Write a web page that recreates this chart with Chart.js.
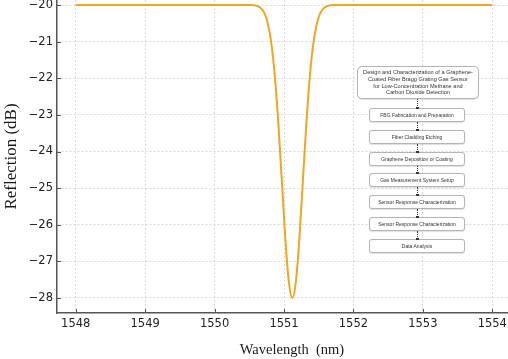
<!DOCTYPE html>
<html>
<head>
<meta charset="utf-8">
<script src="https://cdn.jsdelivr.net/npm/chart.js@4.4.0/dist/chart.umd.min.js"></script>
<style>
  html, body { margin: 0; padding: 0; background: #fff; overflow: hidden; }
  #wrap { position: relative; width: 508px; height: 359px; overflow: hidden; }
  #chart { position: absolute; left: 0; top: 0; }
  .box {
    position: absolute; background: #fff; border: 1px solid #b5b5b5; border-radius: 3px;
    box-sizing: border-box; display: flex; align-items: center; justify-content: center;
    font-family: "Liberation Sans", Arial, sans-serif; color: #333; text-align: center;
    box-shadow: 0 0.5px 1px rgba(0,0,0,0.12);
  }
  .title { font-size: 5.6px; line-height: 6.8px; border-radius: 5px; }
  .step { font-size: 5px; }
  .arrow { position: absolute; width: 0; border-left: 1px dotted #333; }
  .arrow::after {
    content: ""; position: absolute; left: -2px; bottom: -1px;
    width: 3px; height: 2px; background: #333;
  }
</style>
</head>
<body>
<div id="wrap">
  <canvas id="chart" width="527" height="359"></canvas>
</div>
<script>
const wavelength = [1548, 1549, 1550, 1550.52, 1550.62, 1550.67, 1550.72, 1550.77, 1550.82, 1550.87,
  1550.92, 1550.97, 1551.02, 1551.07, 1551.12, 1551.17, 1551.22, 1551.27, 1551.32, 1551.37,
  1551.42, 1551.47, 1551.52, 1551.57, 1551.62, 1551.72, 1552, 1553, 1554];
const reflection = [-20, -20, -20, -20.0, -20.03, -20.09, -20.23, -20.53, -21.08, -21.99,
  -23.29, -24.85, -26.41, -27.57, -28, -27.57, -26.41, -24.85, -23.29, -21.99,
  -21.08, -20.53, -20.23, -20.09, -20.03, -20.0, -20, -20, -20];
const xTicks = [1548, 1549, 1550, 1551, 1552, 1553, 1554];
const yTicks = [-28, -27, -26, -25, -24, -23, -22, -21, -20];
const flowTitle = ["Design and Characterization of a Graphene-", "Coated Fiber Bragg Grating Gas Sensor",
  "for Low-Concentration Methane and", "Carbon Dioxide Detection"];
const flowSteps = ["FBG Fabrication and Preparation", "Fiber Cladding Etching",
  "Graphene Deposition or Coating", "Gas Measurement System Setup",
  "Sensor Response Characterization", "Sensor Response Characterization", "Data Analysis"];

const tickFont = { family: "'DejaVu Sans', sans-serif", size: 11.5 };
const serif = "'Liberation Serif', 'Times New Roman', serif";

// ticks drawn inward, like the original
const innerTicks = {
  id: "innerTicks",
  afterDraw(chart) {
    const { ctx, chartArea, scales } = chart;
    ctx.save();
    ctx.strokeStyle = "#555";
    ctx.lineWidth = 1;
    ctx.beginPath();
    xTicks.forEach(v => {
      const px = Math.round(scales.x.getPixelForValue(v)) + 0.5;
      ctx.moveTo(px, chartArea.bottom);
      ctx.lineTo(px, chartArea.bottom - 4);
    });
    yTicks.forEach(v => {
      const py = Math.round(scales.y.getPixelForValue(v)) + 0.5;
      ctx.moveTo(chartArea.left, py);
      ctx.lineTo(chartArea.left + 4, py);
    });
    ctx.stroke();
    ctx.restore();
  }
};

const ctx = document.getElementById("chart").getContext("2d");
new Chart(ctx, {
  type: "line",
  data: {
    datasets: [{
      data: wavelength.map((w, i) => ({ x: w, y: reflection[i] })),
      borderColor: "#EFA620",
      borderWidth: 2,
      pointRadius: 0,
      cubicInterpolationMode: "monotone",
      fill: false,
    }],
  },
  options: {
    responsive: false,
    animation: false,
    layout: { padding: 0 },
    plugins: { legend: { display: false }, tooltip: { enabled: false } },
    scales: {
      x: {
        type: "linear",
        min: 1547.73,
        max: 1554.5,
        afterBuildTicks: s => { s.ticks = xTicks.map(v => ({ value: v })); },
        afterFit: s => { s.height = 46; s.paddingLeft = 0; s.paddingRight = 0; },
        grid: { color: "#d9d9d9", lineWidth: 1, drawTicks: false },
        border: { color: "#555", width: 1.5, dash: [2, 2] },
        ticks: { font: tickFont, color: "#222", padding: 4, maxRotation: 0, autoSkip: false,
          callback: v => String(v) },
        title: { display: true, text: "Wavelength  (nm)", font: { family: serif, size: 14.5 }, color: "#1a1a1a",
          padding: { top: 4, bottom: 0 } },
      },
      y: {
        min: -28.41,
        max: -19.863,
        afterBuildTicks: s => { s.ticks = yTicks.map(v => ({ value: v })); },
        afterFit: s => { s.width = 57; s.paddingTop = 0; s.paddingBottom = 0; },
        grid: { color: "#d9d9d9", lineWidth: 1, drawTicks: false },
        border: { color: "#555", width: 1.5, dash: [2, 2] },
        ticks: {
          font: tickFont, color: "#222", padding: 4,
          callback: v => String(v).replace("-", "\u2212"),
        },
        title: { display: true, text: "Reflection (dB)", font: { family: serif, size: 17 }, color: "#1a1a1a",
          padding: { top: 1, bottom: 0 } },
      },
    },
  },
  plugins: [innerTicks],
});

// flowchart overlay
const wrap = document.getElementById("wrap");
const head = document.createElement("div");
head.className = "box title";
head.style.cssText = "left:357px;top:66px;width:122px;height:33px;";
head.innerHTML = flowTitle.join("<br>");
wrap.appendChild(head);

flowSteps.forEach((txt, i) => {
  const top = 108 + i * 21.8;
  const b = document.createElement("div");
  b.className = "box step";
  b.style.cssText = `left:369px;top:${top}px;width:96px;height:14px;`;
  b.textContent = txt;
  wrap.appendChild(b);

  const a = document.createElement("div");
  a.className = "arrow";
  const from = i === 0 ? 99 : top - 7.8;
  a.style.cssText = `left:417px;top:${from}px;height:${top - from}px;`;
  wrap.appendChild(a);
});
</script>
</body>
</html>
